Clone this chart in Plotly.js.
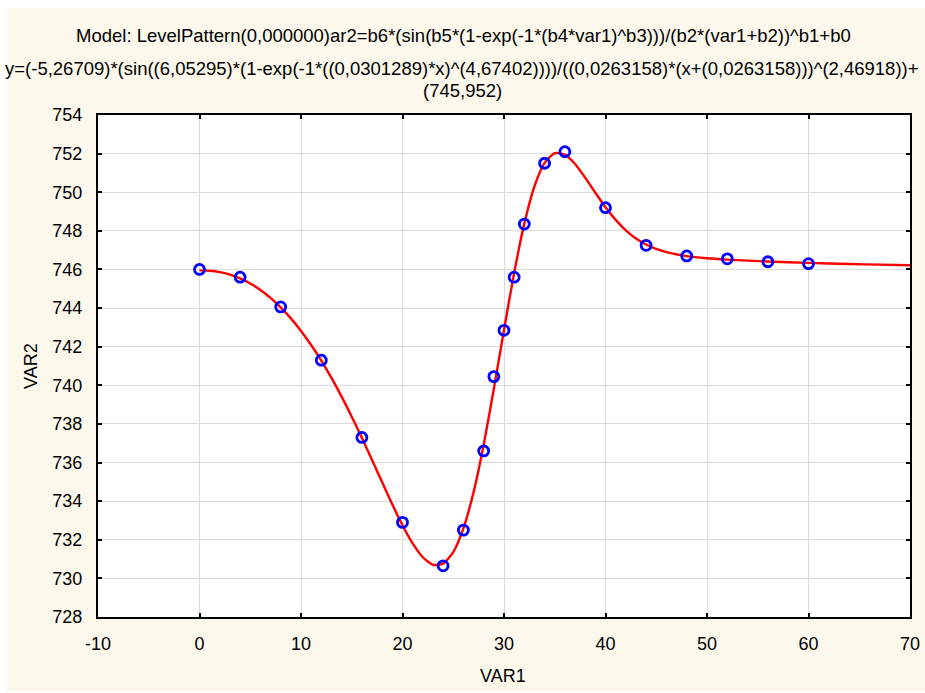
<!DOCTYPE html>
<html>
<head>
<meta charset="utf-8">
<script src="https://cdn.plot.ly/plotly-3.0.1.min.js"></script>
<style>html,body{margin:0;padding:0;background:#fff;}#chart{width:925px;height:693px;}</style>
</head>
<body>
<div id="chart"></div>
<script>
// Observed data (VAR1, VAR2)
const var1 = [0, 4, 8, 12, 16, 20, 24, 26, 28, 29, 30, 31, 32, 34, 36, 40, 44, 48, 52, 56, 60];
const var2 = [746.0, 745.6, 744.06, 741.3, 737.3, 732.9, 730.65, 732.5, 736.6, 740.45, 742.85, 745.6, 748.35, 751.5, 752.1, 749.2, 747.25, 746.7, 746.55, 746.4, 746.3];

// Fitted curve
const fitX = [0, 1, 2, 3, 4, 5, 6, 7, 8, 9, 10, 11, 12, 13, 14, 15, 16, 17, 18, 19, 20, 21, 22, 23, 24, 25, 26, 27, 28, 29, 30, 31, 32, 33, 34, 35, 36, 37, 38, 39, 40, 41, 42, 43, 44, 45, 46, 48, 50, 52, 54, 56, 60, 64, 67, 70];
const fitY = [745.952, 745.933, 745.864, 745.734, 745.539, 745.274, 744.938, 744.526, 744.035, 743.466, 742.817, 742.087, 741.278, 740.384, 739.416, 738.376, 737.277, 736.136, 734.974, 733.829, 732.753, 731.813, 731.095, 730.706, 730.761, 731.362, 732.589, 734.462, 736.920, 739.820, 742.868, 745.822, 748.374, 750.308, 751.518, 752.023, 751.948, 751.465, 750.755, 749.973, 749.220, 748.567, 748.029, 747.609, 747.293, 747.061, 746.894, 746.690, 746.579, 746.509, 746.457, 746.413, 746.341, 746.283, 746.248, 746.218];

const titleLines = [
  "Model: LevelPattern(0,000000)ar2=b6*(sin(b5*(1-exp(-1*(b4*var1)^b3)))/(b2*(var1+b2))^b1+b0",
  "y=(-5,26709)*(sin((6,05295)*(1-exp(-1*((0,0301289)*x)^(4,67402))))/((0,0263158)*(x+(0,0263158)))^(2,46918))+",
  "(745,952)"
];
const xTitle = "VAR1";
const yTitle = "VAR2";
const xTicks = [-10, 0, 10, 20, 30, 40, 50, 60, 70];
const xTickText = ["-10", "0", "10", "20", "30", "40", "50", "60", "70"];
const yTicks = [728, 730, 732, 734, 736, 738, 740, 742, 744, 746, 748, 750, 752, 754];

const traces = [
  {x: fitX, y: fitY, type: 'scatter', mode: 'lines', line: {color: '#FF0000', width: 2.4, shape: 'spline', smoothing: 0.6}, hoverinfo: 'skip'},
  {x: var1, y: var2, type: 'scatter', mode: 'markers', marker: {symbol: 'circle-open', size: 10, color: '#0000FF', line: {width: 2.8, color: '#0000FF'}}}
];

const F = "Arial, 'Liberation Sans', sans-serif";
const W = 925, H = 693, L = 98, R = 15, T = 115, B = 76;
const pw = W - L - R, ph = H - T - B;
const py = p => (H - B - p) / ph;
const px = p => (p - L) / pw;

const axisCommon = {
  ticks: 'inside', ticklen: 4, tickwidth: 2, tickcolor: '#000',
  showline: true, linecolor: '#000', linewidth: 2, mirror: 'ticks',
  showgrid: true, gridcolor: '#DCDCDC', gridwidth: 1, zeroline: false,
  tickfont: {family: F, size: 18, color: '#000'}
};

const layout = {
  width: W, height: H,
  margin: {l: L, r: R, t: T, b: B, pad: 0},
  paper_bgcolor: '#FFFFFF',
  plot_bgcolor: 'rgba(0,0,0,0)',
  showlegend: false,
  font: {family: F, size: 18, color: '#000'},
  xaxis: Object.assign({}, axisCommon, {range: [-10, 70], tickmode: 'array', tickvals: xTicks, ticktext: xTickText, ticklabelstandoff: 9}),
  yaxis: Object.assign({}, axisCommon, {range: [728, 754], tickmode: 'array', tickvals: yTicks, ticklabelstandoff: 10}),
  shapes: [
    {type: 'rect', xref: 'paper', yref: 'paper', x0: px(7), x1: px(930), y0: py(691), y1: py(8), fillcolor: '#FCF8EC', line: {width: 0}, layer: 'below'},
    {type: 'rect', xref: 'paper', yref: 'paper', x0: 0, x1: 1, y0: 0, y1: 1, fillcolor: '#FFFFFF', line: {width: 0}, layer: 'below'}
  ],
  annotations: [
    {text: titleLines[0], xref: 'paper', yref: 'paper', x: px(463), y: py(36), xanchor: 'center', yanchor: 'middle', showarrow: false, font: {family: F, size: 18.5, color: '#000'}},
    {text: titleLines[1], xref: 'paper', yref: 'paper', x: px(462), y: py(68), xanchor: 'center', yanchor: 'middle', showarrow: false, font: {family: F, size: 18.5, color: '#000'}},
    {text: titleLines[2], xref: 'paper', yref: 'paper', x: px(462), y: py(90), xanchor: 'center', yanchor: 'middle', showarrow: false, font: {family: F, size: 18.5, color: '#000'}},
    {text: xTitle, xref: 'paper', yref: 'paper', x: px(503), y: py(676), xanchor: 'center', yanchor: 'middle', showarrow: false, font: {family: F, size: 18, color: '#000'}},
    {text: yTitle, xref: 'paper', yref: 'paper', x: px(31), y: py(366), xanchor: 'center', yanchor: 'middle', textangle: -90, showarrow: false, font: {family: F, size: 18, color: '#000'}}
  ]
};

Plotly.newPlot('chart', traces, layout, {displayModeBar: false, staticPlot: true});
</script>
</body>
</html>
